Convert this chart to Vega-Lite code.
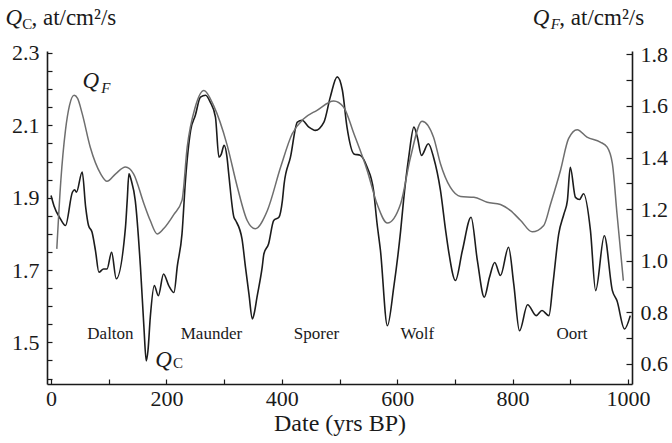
{
  "$schema": "https://vega.github.io/schema/vega-lite/v6.json",
  "width": 585,
  "height": 333,
  "autosize": "none",
  "padding": {"left": 47, "top": 51, "right": 40, "bottom": 59},
  "background": "white",
  "config": {"view": {"stroke": null}, "font": "Liberation Serif"},
  "datasets": {
    "qc": [
      {"x":0,"v":1.906},{"x":5,"v":1.878},{"x":16,"v":1.842},{"x":25,"v":1.823},{"x":37,"v":1.915},{"x":41,"v":1.922},{"x":44,"v":1.915},{"x":54,"v":1.971},{"x":60,"v":1.874},{"x":65,"v":1.823},{"x":71,"v":1.805},{"x":77,"v":1.754},{"x":83,"v":1.694},{"x":91,"v":1.703},{"x":97,"v":1.703},{"x":105,"v":1.749},{"x":113,"v":1.676},{"x":129,"v":1.818},{"x":132,"v":1.892},{"x":135,"v":1.966},{"x":139,"v":1.948},{"x":146,"v":1.892},{"x":155,"v":1.708},{"x":161,"v":1.542},{"x":165,"v":1.449},{"x":168,"v":1.477},{"x":172,"v":1.569},{"x":179,"v":1.657},{"x":186,"v":1.629},{"x":195,"v":1.689},{"x":204,"v":1.657},{"x":213,"v":1.638},{"x":219,"v":1.712},{"x":227,"v":1.8},{"x":233,"v":1.948},{"x":242,"v":2.086},{"x":250,"v":2.127},{"x":259,"v":2.178},{"x":268,"v":2.183},{"x":276,"v":2.164},{"x":285,"v":2.123},{"x":291,"v":2.012},{"x":295,"v":2.02},{"x":300,"v":2.045},{"x":305,"v":2.012},{"x":308,"v":1.966},{"x":317,"v":1.846},{"x":320,"v":1.837},{"x":331,"v":1.786},{"x":337,"v":1.708},{"x":343,"v":1.634},{"x":349,"v":1.565},{"x":352,"v":1.579},{"x":357,"v":1.625},{"x":366,"v":1.708},{"x":369,"v":1.745},{"x":377,"v":1.772},{"x":386,"v":1.837},{"x":395,"v":1.846},{"x":401,"v":1.892},{"x":404,"v":1.938},{"x":415,"v":2.012},{"x":427,"v":2.109},{"x":435,"v":2.114},{"x":447,"v":2.095},{"x":458,"v":2.086},{"x":473,"v":2.109},{"x":484,"v":2.178},{"x":496,"v":2.234},{"x":505,"v":2.197},{"x":513,"v":2.095},{"x":525,"v":2.021},{"x":536,"v":2.017},{"x":548,"v":1.984},{"x":559,"v":1.92},{"x":565,"v":1.83},{"x":571,"v":1.754},{"x":583,"v":1.546},{"x":594,"v":1.652},{"x":606,"v":1.809},{"x":611,"v":1.892},{"x":620,"v":2.012},{"x":629,"v":2.095},{"x":635,"v":2.067},{"x":642,"v":2.017},{"x":654,"v":2.049},{"x":663,"v":2.012},{"x":675,"v":1.92},{"x":684,"v":1.809},{"x":689,"v":1.754},{"x":701,"v":1.671},{"x":713,"v":1.754},{"x":728,"v":1.846},{"x":739,"v":1.726},{"x":751,"v":1.625},{"x":760,"v":1.68},{"x":769,"v":1.721},{"x":779,"v":1.685},{"x":793,"v":1.763},{"x":802,"v":1.662},{"x":812,"v":1.532},{"x":826,"v":1.604},{"x":841,"v":1.574},{"x":851,"v":1.588},{"x":863,"v":1.574},{"x":870,"v":1.662},{"x":880,"v":1.8},{"x":889,"v":1.855},{"x":895,"v":1.892},{"x":900,"v":1.984},{"x":909,"v":1.901},{"x":916,"v":1.895},{"x":923,"v":1.911},{"x":935,"v":1.809},{"x":944,"v":1.643},{"x":959,"v":1.795},{"x":973,"v":1.643},{"x":981,"v":1.615},{"x":994,"v":1.537},{"x":1004,"v":1.574}
    ],
    "qf": [
      {"x":10,"v":1.046},{"x":17,"v":1.311},{"x":25,"v":1.505},{"x":32,"v":1.602},{"x":40,"v":1.641},{"x":46,"v":1.629},{"x":54,"v":1.57},{"x":68,"v":1.44},{"x":86,"v":1.337},{"x":97,"v":1.308},{"x":112,"v":1.337},{"x":129,"v":1.363},{"x":143,"v":1.337},{"x":161,"v":1.221},{"x":172,"v":1.156},{"x":184,"v":1.104},{"x":195,"v":1.124},{"x":213,"v":1.18},{"x":227,"v":1.234},{"x":236,"v":1.44},{"x":250,"v":1.596},{"x":265,"v":1.66},{"x":282,"v":1.6},{"x":305,"v":1.45},{"x":323,"v":1.285},{"x":340,"v":1.156},{"x":354,"v":1.124},{"x":375,"v":1.195},{"x":398,"v":1.363},{"x":418,"v":1.492},{"x":438,"v":1.55},{"x":461,"v":1.583},{"x":490,"v":1.619},{"x":507,"v":1.596},{"x":525,"v":1.492},{"x":548,"v":1.35},{"x":565,"v":1.221},{"x":583,"v":1.146},{"x":606,"v":1.221},{"x":623,"v":1.4},{"x":643,"v":1.541},{"x":663,"v":1.479},{"x":675,"v":1.376},{"x":692,"v":1.285},{"x":710,"v":1.249},{"x":733,"v":1.246},{"x":756,"v":1.227},{"x":779,"v":1.218},{"x":796,"v":1.195},{"x":814,"v":1.156},{"x":834,"v":1.112},{"x":854,"v":1.137},{"x":866,"v":1.221},{"x":883,"v":1.35},{"x":897,"v":1.473},{"x":912,"v":1.508},{"x":929,"v":1.479},{"x":952,"v":1.46},{"x":964,"v":1.44},{"x":973,"v":1.376},{"x":981,"v":1.182},{"x":992,"v":0.923}
    ],
    "ann": [
      {"kind":"era","text":"Dalton","x":103,"y":1.524},
      {"kind":"era","text":"Maunder","x":278,"y":1.524},
      {"kind":"era","text":"Sporer","x":460,"y":1.524},
      {"kind":"era","text":"Wolf","x":635,"y":1.524},
      {"kind":"era","text":"Oort","x":903,"y":1.524},
      {"kind":"q","text":"Q","x":69,"y":2.222},
      {"kind":"subi","text":"F","x":95,"y":2.204},
      {"kind":"q","text":"Q","x":195,"y":1.452},
      {"kind":"sub","text":"C","x":220,"y":1.442},
      {"kind":"tq","text":"Q","x":-79,"y":2.396},
      {"kind":"tsub","text":"C","x":-50,"y":2.379},
      {"kind":"tt","text":", at/cm²/s","x":-34,"y":2.396},
      {"kind":"tq","text":"Q","x":835,"y":2.396},
      {"kind":"tsubi","text":"F","x":866,"y":2.379},
      {"kind":"tt","text":", at/cm²/s","x":881,"y":2.396}
    ]
  },
  "layer": [
    {
      "data": {"name": "qc"},
      "mark": {"type": "line", "color": "#1c1c1c", "strokeWidth": 1.6, "interpolate": "monotone", "clip": true},
      "encoding": {
        "x": {"field": "x", "type": "quantitative",
          "scale": {"domain": [-7, 1007], "nice": false, "zero": false},
          "axis": {
            "title": "Date (yrs BP)", "titleFont": "Liberation Serif", "titleFontSize": 24, "titleFontWeight": "normal", "titleColor": "#1a1a1a", "titlePadding": 2,
            "values": [0,50,100,150,200,250,300,350,400,450,500,550,600,650,700,750,800,850,900,950,1000],
            "labelExpr": "datum.value % 200 === 0 ? format(datum.value, 'd') : ''",
            "labelFont": "Liberation Serif", "labelFontSize": 22, "labelColor": "#1a1a1a", "labelPadding": 9, "labelFlush": false, "labelOverlap": false,
            "grid": false, "ticks": true, "tickSize": -5, "tickColor": "#1a1a1a", "tickWidth": 1.2,
            "domainColor": "#1a1a1a", "domainWidth": 1.6,
            "encode": {"ticks": {"y2": {"signal": "datum.value % 100 === 0 ? -7 : -4"}}}
          }
        },
        "y": {"field": "v", "type": "quantitative",
          "scale": {"domain": [1.385, 2.3055], "nice": false, "zero": false},
          "axis": {
            "orient": "left", "title": null,
            "values": [1.4,1.45,1.5,1.55,1.6,1.65,1.7,1.75,1.8,1.85,1.9,1.95,2.0,2.05,2.1,2.15,2.2,2.25,2.3],
            "labelExpr": "abs((datum.value-1.5)/0.2 - round((datum.value-1.5)/0.2)) < 0.01 ? format(datum.value, '.1f') : ''",
            "labelFont": "Liberation Serif", "labelFontSize": 22, "labelColor": "#1a1a1a", "labelPadding": 13, "labelFlush": false, "labelOverlap": false,
            "grid": false, "ticks": true, "tickSize": -5, "tickColor": "#1a1a1a", "tickWidth": 1.2,
            "domainColor": "#1a1a1a", "domainWidth": 1.6,
            "encode": {"ticks": {"x2": {"signal": "abs((datum.value-1.5)/0.2 - round((datum.value-1.5)/0.2)) < 0.01 ? 8 : 5"}}}
          }
        }
      }
    },
    {
      "data": {"name": "qf"},
      "mark": {"type": "line", "color": "#6e6e6e", "strokeWidth": 1.5, "interpolate": "monotone", "clip": true},
      "encoding": {
        "x": {"field": "x", "type": "quantitative", "scale": {"domain": [-7, 1007], "nice": false, "zero": false}},
        "y": {"field": "v", "type": "quantitative",
          "scale": {"domain": [0.5224, 1.8128], "nice": false, "zero": false},
          "axis": {
            "orient": "right", "title": null,
            "values": [0.6,0.7,0.8,0.9,1.0,1.1,1.2,1.3,1.4,1.5,1.6,1.7,1.8],
            "labelExpr": "round(datum.value*10) % 2 === 0 ? format(datum.value, '.1f') : ''",
            "labelFont": "Liberation Serif", "labelFontSize": 22, "labelColor": "#1a1a1a", "labelPadding": 14, "labelFlush": false, "labelOverlap": false,
            "grid": false, "ticks": true, "tickSize": -6, "tickColor": "#1a1a1a", "tickWidth": 1.2,
            "domainColor": "#1a1a1a", "domainWidth": 1.6
          }
        }
      }
    },
    {
      "data": {"name": "ann"},
      "transform": [{"filter": "datum.kind === 'era'"}],
      "mark": {"type": "text", "font": "Liberation Serif", "fontSize": 17, "color": "#1a1a1a", "align": "center", "baseline": "middle"},
      "encoding": {
        "x": {"field": "x", "type": "quantitative", "scale": {"domain": [-7, 1007], "nice": false, "zero": false}},
        "y": {"field": "y", "type": "quantitative", "scale": {"domain": [1.385, 2.3055], "nice": false, "zero": false}, "axis": null},
        "text": {"field": "text"}
      }
    },
    {
      "data": {"name": "ann"},
      "transform": [{"filter": "datum.kind === 'q'"}],
      "mark": {"type": "text", "font": "Liberation Serif", "fontSize": 23, "fontStyle": "italic", "color": "#1a1a1a", "align": "center", "baseline": "middle"},
      "encoding": {
        "x": {"field": "x", "type": "quantitative", "scale": {"domain": [-7, 1007], "nice": false, "zero": false}},
        "y": {"field": "y", "type": "quantitative", "scale": {"domain": [1.385, 2.3055], "nice": false, "zero": false}, "axis": null},
        "text": {"field": "text"}
      }
    },
    {
      "data": {"name": "ann"},
      "transform": [{"filter": "datum.kind === 'sub'"}],
      "mark": {"type": "text", "font": "Liberation Serif", "fontSize": 15, "color": "#1a1a1a", "align": "center", "baseline": "middle"},
      "encoding": {
        "x": {"field": "x", "type": "quantitative", "scale": {"domain": [-7, 1007], "nice": false, "zero": false}},
        "y": {"field": "y", "type": "quantitative", "scale": {"domain": [1.385, 2.3055], "nice": false, "zero": false}, "axis": null},
        "text": {"field": "text"}
      }
    },
    {
      "data": {"name": "ann"},
      "transform": [{"filter": "datum.kind === 'subi'"}],
      "mark": {"type": "text", "font": "Liberation Serif", "fontSize": 15, "fontStyle": "italic", "color": "#1a1a1a", "align": "center", "baseline": "middle"},
      "encoding": {
        "x": {"field": "x", "type": "quantitative", "scale": {"domain": [-7, 1007], "nice": false, "zero": false}},
        "y": {"field": "y", "type": "quantitative", "scale": {"domain": [1.385, 2.3055], "nice": false, "zero": false}, "axis": null},
        "text": {"field": "text"}
      }
    },
    {
      "data": {"name": "ann"},
      "transform": [{"filter": "datum.kind === 'tq'"}],
      "mark": {"type": "text", "font": "Liberation Serif", "fontSize": 23, "fontStyle": "italic", "color": "#1a1a1a", "align": "left", "baseline": "middle"},
      "encoding": {
        "x": {"field": "x", "type": "quantitative", "scale": {"domain": [-7, 1007], "nice": false, "zero": false}},
        "y": {"field": "y", "type": "quantitative", "scale": {"domain": [1.385, 2.3055], "nice": false, "zero": false}, "axis": null},
        "text": {"field": "text"}
      }
    },
    {
      "data": {"name": "ann"},
      "transform": [{"filter": "datum.kind === 'tsub'"}],
      "mark": {"type": "text", "font": "Liberation Serif", "fontSize": 15, "color": "#1a1a1a", "align": "left", "baseline": "middle"},
      "encoding": {
        "x": {"field": "x", "type": "quantitative", "scale": {"domain": [-7, 1007], "nice": false, "zero": false}},
        "y": {"field": "y", "type": "quantitative", "scale": {"domain": [1.385, 2.3055], "nice": false, "zero": false}, "axis": null},
        "text": {"field": "text"}
      }
    },
    {
      "data": {"name": "ann"},
      "transform": [{"filter": "datum.kind === 'tsubi'"}],
      "mark": {"type": "text", "font": "Liberation Serif", "fontSize": 15, "fontStyle": "italic", "color": "#1a1a1a", "align": "left", "baseline": "middle"},
      "encoding": {
        "x": {"field": "x", "type": "quantitative", "scale": {"domain": [-7, 1007], "nice": false, "zero": false}},
        "y": {"field": "y", "type": "quantitative", "scale": {"domain": [1.385, 2.3055], "nice": false, "zero": false}, "axis": null},
        "text": {"field": "text"}
      }
    },
    {
      "data": {"name": "ann"},
      "transform": [{"filter": "datum.kind === 'tt'"}],
      "mark": {"type": "text", "font": "Liberation Serif", "fontSize": 23, "color": "#1a1a1a", "align": "left", "baseline": "middle"},
      "encoding": {
        "x": {"field": "x", "type": "quantitative", "scale": {"domain": [-7, 1007], "nice": false, "zero": false}},
        "y": {"field": "y", "type": "quantitative", "scale": {"domain": [1.385, 2.3055], "nice": false, "zero": false}, "axis": null},
        "text": {"field": "text"}
      }
    }
  ],
  "resolve": {"scale": {"y": "independent"}}
}
